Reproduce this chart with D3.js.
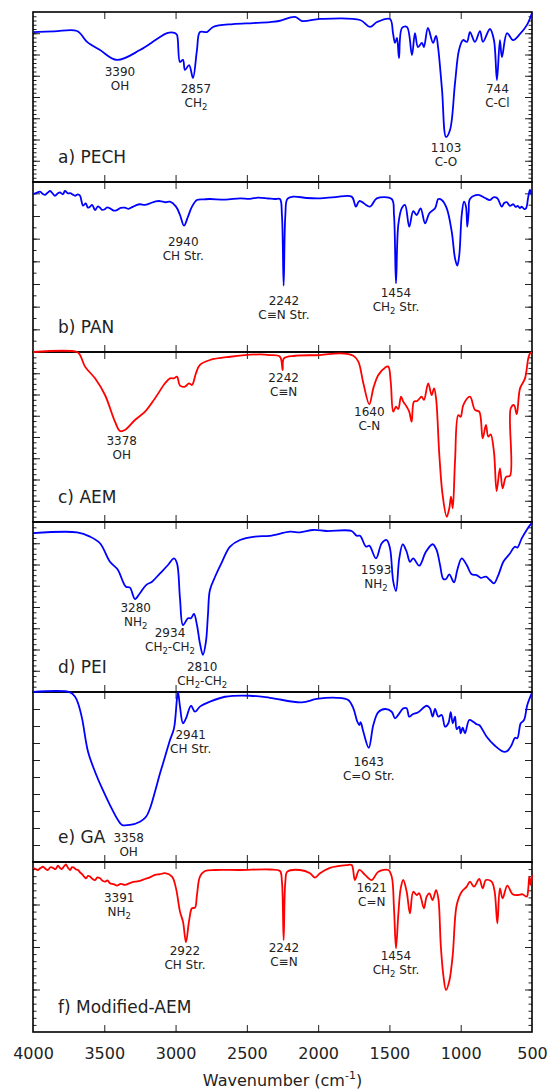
<!DOCTYPE html>
<html>
<head>
<meta charset="UTF-8">
<style>
  body { margin: 0; background: #fff; }
  svg text { font-family: "DejaVu Sans", sans-serif; fill: #222; }
  .spectrum { fill: none; stroke-width: 1.8px; stroke-linejoin: round; }
  .frame { fill: none; stroke: #000; stroke-width: 1.6px; }
  .tick line { stroke: #222; stroke-width: 1px; }
  .domain { display: none; }
</style>
</head>
<body>
<svg id="chart" width="549" height="1089"></svg>
<script src="https://d3js.org/d3.v7.min.js"></script>
<script>

// ---- spectra: [wavenumber, relative transmittance (%)] ----
let pechData = [
  [4000,88.2],[3850,88.6],[3691,88.8],[3621,82.4],[3530,77.6],[3411,71.8],[3250,77.6],[3130,84.1],
  [3060,87.6],[3004,87.6],[2990,86.5],[2969,70.6],[2948,71.8],[2934,65.9],[2905,68.8],[2878,61.2],
  [2850,77.6],[2829,88.2],[2780,88.2],[2737,91.2],[2597,92.9],[2457,93.5],[2338,94.1],[2275,94.7],
  [2162,97.1],[2113,94.7],[1987,95.9],[1706,95.3],[1636,91.2],[1587,94.1],[1496,95.9],[1475,87.6],
  [1461,81.8],[1447,84.7],[1433,72.9],[1412,90.6],[1377,91.2],[1342,74.7],[1321,87.6],[1300,79.4],
  [1272,81.8],[1258,79.4],[1230,90.6],[1194,81.8],[1173,85.9],[1159,79.4],[1131,54.1],[1103,26.5],
  [1075,30.6],[1040,58.2],[1012,77.6],[984,83.5],[956,82.4],[935,88.2],[900,82.4],[865,88.8],
  [844,82.4],[795,90.0],[767,83.5],[746,60.0],[725,83.5],[711,73.5],[675,87.6],[633,83.5],
  [584,87.1],[535,92.4],[500,99.4]
];
let panData = [
  [4000,92.8],[3975,93.6],[3951,94.3],[3930,92.9],[3916,92.4],[3900,93.5],[3881,94.7],[3860,93.0],
  [3846,91.9],[3825,93.4],[3811,93.9],[3790,92.8],[3776,94.7],[3755,93.3],[3740,93.4],[3720,92.6],
  [3705,91.9],[3685,92.7],[3670,91.9],[3649,86.1],[3630,87.4],[3615,84.9],[3600,85.5],[3585,86.6],
  [3565,83.5],[3545,85.6],[3530,84.9],[3515,83.6],[3500,83.8],[3480,85.1],[3460,84.5],[3435,83.2],
  [3411,83.5],[3385,84.8],[3355,84.9],[3330,84.2],[3300,85.4],[3275,86.4],[3250,86.9],[3215,86.6],
  [3180,87.4],[3140,88.6],[3109,88.8],[3070,88.1],[3039,88.4],[2997,85.5],[2969,80.6],[2941,74.3],
  [2913,79.6],[2885,85.5],[2850,89.4],[2800,89.8],[2759,90.0],[2650,89.6],[2548,90.4],[2480,90.1],
  [2422,90.8],[2350,90.3],[2303,90.0],[2268,90.0],[2254,80.6],[2242,39.0],[2230,80.6],[2216,90.0],
  [2174,91.4],[2080,90.6],[1987,90.4],[1880,91.1],[1765,91.4],[1735,85.5],[1711,88.8],[1636,85.5],
  [1589,90.4],[1484,90.0],[1468,80.6],[1454,40.4],[1438,74.7],[1414,84.5],[1391,86.5],[1361,73.7],
  [1333,82.9],[1309,80.6],[1281,84.5],[1250,75.7],[1220,81.6],[1180,84.5],[1157,90.0],[1133,89.4],
  [1098,84.5],[1063,70.8],[1040,55.1],[1024,50.8],[1010,57.1],[993,80.6],[977,88.4],[963,85.5],
  [954,73.7],[944,82.5],[935,90.0],[877,92.4],[830,90.6],[795,89.4],[770,91.0],[743,90.4],
  [712,85.5],[695,87.6],[677,88.1],[655,86.0],[631,86.9],[615,85.4],[600,85.9],[585,84.7],
  [572,85.5],[555,84.1],[542,84.5],[526,91.4],[514,95.3],[502,92.4]
];
let aemData = [
  [4000,100],[3691,100],[3670,98.2],[3635,91.4],[3565,84.5],[3495,74.7],[3425,59.0],[3390,53.5],
  [3355,54.1],[3285,60.0],[3214,64.9],[3144,72.8],[3074,81.6],[3039,84.5],[3011,84.5],[2990,85.5],
  [2969,80.2],[2934,79.6],[2906,81.6],[2885,80.6],[2857,87.5],[2829,92.4],[2759,95.3],[2618,97.2],
  [2408,98.6],[2338,98.2],[2268,97.2],[2249,89.4],[2240,96.3],[2162,97.8],[1987,98.2],[1847,99.2],
  [1753,97.8],[1718,94.3],[1683,81.6],[1641,69.2],[1613,78.6],[1578,86.5],[1531,90.8],[1508,91.4],
  [1491,82.5],[1473,64.9],[1454,67.8],[1438,66.5],[1419,73.7],[1403,70.8],[1379,67.8],[1361,64.9],
  [1344,59.0],[1328,70.8],[1305,71.2],[1274,73.7],[1258,71.8],[1228,81.6],[1204,74.7],[1187,78.6],
  [1173,72.8],[1150,39.4],[1127,15.9],[1098,3.1],[1080,8.1],[1068,14.9],[1056,8.1],[1040,35.5],
  [1017,62.9],[1000,61.9],[982,68.8],[935,73.7],[900,65.9],[870,64.9],[846,49.2],[823,57.1],
  [807,50.2],[790,51.6],[767,41.4],[748,18.2],[725,31.6],[706,19.8],[682,26.6],[654,27.2],
  [649,66.9],[626,68.8],[607,63.4],[584,78.6],[549,84.5],[526,96.3],[514,99.2],[500,100]
];
let peiData = [
  [4000,93.4],[3691,93.9],[3600,91.4],[3530,87.5],[3460,76.6],[3404,71.8],[3369,64.9],[3348,61.9],
  [3320,61.4],[3285,54.7],[3250,58.1],[3207,62.9],[3165,64.9],[3109,69.8],[3053,74.7],[3011,78.6],
  [2990,75.7],[2969,55.1],[2948,39.4],[2913,43.4],[2892,43.4],[2871,45.9],[2850,39.4],[2829,28.6],
  [2808,21.8],[2787,29.6],[2773,45.3],[2759,60.0],[2723,67.8],[2674,76.6],[2618,85.5],[2548,89.4],
  [2443,91.4],[2338,91.9],[2197,94.3],[2127,93.9],[2034,95.3],[1940,94.7],[1765,94.7],[1730,91.9],
  [1706,91.9],[1664,85.5],[1641,86.1],[1594,78.6],[1554,87.5],[1519,89.4],[1496,84.5],[1473,64.9],
  [1454,59.4],[1431,78.6],[1407,86.9],[1379,82.5],[1356,76.6],[1333,78.6],[1291,74.3],[1244,82.5],
  [1197,86.9],[1169,83.5],[1145,74.7],[1122,66.5],[1103,66.5],[1080,69.2],[1047,64.5],[1024,71.8],
  [993,78.6],[958,74.7],[923,69.2],[888,68.8],[860,67.2],[823,67.8],[795,65.9],[767,63.9],
  [736,68.8],[701,76.6],[659,81.0],[619,85.5],[603,84.9],[572,90.4],[537,95.3],[514,98.2],[500,99.4]
];
let gaData = [
  [4000,100],[3740,99.8],[3705,97.2],[3684,93.4],[3656,84.5],[3614,64.9],[3565,53.1],[3516,43.4],
  [3460,33.5],[3404,24.7],[3376,21.8],[3320,21.8],[3250,23.7],[3207,26.6],[3179,31.6],[3144,41.4],
  [3109,52.2],[3074,61.9],[3039,71.8],[3011,78.6],[2990,96.3],[2983,100],[2969,91.4],[2948,81.6],
  [2927,84.5],[2892,91.9],[2864,88.4],[2829,91.4],[2759,94.3],[2653,97.2],[2478,97.8],[2338,96.6],
  [2115,93.9],[2010,95.9],[1870,96.6],[1789,95.3],[1753,90.4],[1725,82.5],[1711,80.6],[1702,82.2],
  [1683,76.6],[1645,67.2],[1613,80.6],[1578,88.1],[1531,90.0],[1484,88.4],[1461,84.5],[1438,86.5],
  [1403,90.4],[1379,90.4],[1361,85.5],[1337,86.9],[1298,88.1],[1239,91.9],[1216,90.4],[1197,85.5],
  [1180,90.0],[1157,85.5],[1133,86.5],[1110,79.6],[1087,81.6],[1070,88.1],[1056,81.6],[1040,85.5],
  [1028,78.2],[1010,79.6],[1000,75.7],[986,79.0],[970,75.7],[940,83.5],[912,82.5],[888,81.0],
  [870,80.6],[818,73.7],[760,68.4],[701,64.9],[673,65.3],[643,68.8],[619,73.1],[603,72.8],
  [579,81.6],[556,83.5],[533,92.4],[502,99.2]
];
let modAemData = [
  [4000,96.6],[3982,95.9],[3965,95.3],[3948,96.4],[3930,97.2],[3912,96.0],[3895,95.3],[3878,96.9],
  [3860,96.6],[3842,95.8],[3825,97.8],[3810,96.5],[3797,95.9],[3783,97.4],[3769,98.6],[3755,96.6],
  [3740,95.3],[3726,97.0],[3712,96.6],[3698,95.6],[3684,95.3],[3670,93.9],[3656,92.8],[3640,91.2],
  [3628,90.4],[3614,91.8],[3600,91.4],[3582,90.0],[3565,89.4],[3548,90.9],[3530,90.4],[3512,89.0],
  [3495,88.4],[3478,89.2],[3460,87.5],[3435,87.0],[3411,86.1],[3385,87.1],[3355,86.5],[3320,87.6],
  [3285,88.4],[3250,88.9],[3214,90.0],[3180,91.0],[3144,92.4],[3110,92.8],[3074,93.4],[3025,91.4],
  [2997,84.5],[2969,70.8],[2948,64.9],[2927,52.8],[2906,64.9],[2885,72.8],[2864,73.1],[2850,80.6],
  [2829,91.4],[2794,94.7],[2723,95.3],[2548,95.3],[2338,95.6],[2268,94.7],[2254,88.4],[2242,54.1],
  [2230,88.4],[2216,94.3],[2127,95.3],[2057,93.4],[2022,90.8],[1987,93.4],[1917,96.6],[1800,98.2],
  [1765,98.2],[1742,89.4],[1711,95.3],[1671,92.4],[1624,89.4],[1578,94.3],[1508,95.3],[1484,91.4],
  [1468,72.8],[1454,49.2],[1438,68.8],[1421,84.5],[1403,89.4],[1379,82.5],[1356,69.8],[1333,82.5],
  [1309,80.6],[1291,81.6],[1258,72.8],[1239,79.6],[1220,81.6],[1197,77.6],[1173,83.5],[1157,78.6],
  [1140,51.2],[1122,33.5],[1103,24.7],[1080,30.0],[1056,45.3],[1028,74.7],[993,82.5],[958,85.5],
  [935,88.4],[907,85.5],[870,90.0],[846,84.5],[823,89.4],[783,88.4],[762,82.5],[743,63.9],
  [725,84.5],[706,78.6],[673,86.1],[636,81.0],[598,80.6],[566,81.0],[537,79.6],[526,84.5],
  [519,91.4],[509,86.5],[500,92.4]
];

// ---- peak labels: [label wavenumber, label level (%), number, group] ----
let pechPeaks = [[3390,62.4,"3390","OH"],[2857,52.2,"2857","CH_2"],[1103,17.8,"1103","C-O"],[743,52.2,"744","C-Cl"]];
let panPeaks = [[2946,62.4,"2940","CH Str."],[2240,27.6,"2242","C\u2261N Str."],[1454,32.5,"1454","CH_2 Str."]];
let aemPeaks = [[3378,45.3,"3378","OH"],[2242,82.5,"2242","C\u2261N"],[1641,62.4,"1640","C-N"]];
let peiPeaks = [[3280,47.2,"3280","NH_2"],[3039,32.5,"2934","CH_2-CH_2"],[2813,12.5,"2810","CH_2-CH_2"],[1594,69.2,"1593","NH_2"]];
let gaPeaks = [[3329,11.9,"3358","OH"],[2894,72.2,"2941","CH Str."],[1645,56.6,"1643","C=O Str."]];
let modAemPeaks = [[3395,76.6,"3391","NH_2"],[2934,45.3,"2922","CH Str."],[2240,47.2,"2242","C\u2261N"],[1624,82.5,"1621","C=N"],[1454,42.4,"1454","CH_2 Str."]];

let panelNames = ["a) PECH","b) PAN","c) AEM","d) PEI","e) GA","f) Modified-AEM"];
let xTicks = [4000,3500,3000,2500,2000,1500,1000,500];

// ---- layout ----
let width = 549, height = 1089;
let left = 33, right = 532, top0 = 12, panelH = 170;

let panels = [
  {name: panelNames[0], data: pechData,   peaks: pechPeaks,   color: "#0000ff", major: 12.5,  minor: 2.5},
  {name: panelNames[1], data: panData,    peaks: panPeaks,    color: "#0000ff", major: 13.333, minor: 6.667},
  {name: panelNames[2], data: aemData,    peaks: aemPeaks,    color: "#ff0000", major: 12.5,  minor: 3.125},
  {name: panelNames[3], data: peiData,    peaks: peiPeaks,    color: "#0000ff", major: 12.5,  minor: 3.125},
  {name: panelNames[4], data: gaData,     peaks: gaPeaks,     color: "#0000ff", major: 10,    minor: 10},
  {name: panelNames[5], data: modAemData, peaks: modAemPeaks, color: "#ff0000", major: 25,    minor: 4.1667}
];

let svg = d3.select("#chart")
    .attr("viewBox", "0 0 " + width + " " + height);

let x = d3.scaleLinear().domain([4000, 500]).range([left, right]);

// text with "_2" style subscripts
function richText(sel, str) {
  let parts = str.split(/_(\d)/);
  let shifted = false;
  parts.forEach((p, i) => {
    if (p === "") return;
    let t = sel.append("tspan").text(p);
    if (i % 2 === 1) {
      t.attr("font-size", "8.5px").attr("dy", 3);
      shifted = true;
    } else if (shifted) {
      t.attr("dy", -3);
      shifted = false;
    }
  });
}

function ticksFor(step) {
  let vals = [];
  for (let k = 1; k * step < 99.9; k++) vals.push(k * step);
  return vals;
}

panels.forEach((p, i) => {
  let y0 = top0 + i * panelH;
  let y = d3.scaleLinear().domain([0, 100]).range([y0 + panelH, y0]);
  let g = svg.append("g").attr("class", "panel");

  // y ticks (inward, both sides) - minor then major
  g.append("g").attr("transform", `translate(${left},0)`)
    .call(d3.axisLeft(y).tickValues(ticksFor(p.minor)).tickSize(-3.5).tickFormat(""));
  g.append("g").attr("transform", `translate(${left},0)`)
    .call(d3.axisLeft(y).tickValues(ticksFor(p.major)).tickSize(-7).tickFormat(""));
  g.append("g").attr("transform", `translate(${right},0)`)
    .call(d3.axisRight(y).tickValues(ticksFor(p.minor)).tickSize(-3.5).tickFormat(""));
  g.append("g").attr("transform", `translate(${right},0)`)
    .call(d3.axisRight(y).tickValues(ticksFor(p.major)).tickSize(-7).tickFormat(""));

  // x ticks top and bottom
  let inner = xTicks.filter(v => v < 4000 && v > 500);
  g.append("g").attr("transform", `translate(0,${y0})`)
    .call(d3.axisTop(x).tickValues(inner).tickSize(-7).tickFormat(""));
  let bottomAxis = g.append("g").attr("transform", `translate(0,${y0 + panelH})`);
  if (i === panels.length - 1) {
    bottomAxis.call(d3.axisBottom(x).tickValues(xTicks).tickSize(-7).tickPadding(15.5).tickFormat(d3.format("d")))
      .selectAll("text").attr("font-size", "16px").attr("fill", "#222")
      .attr("font-family", "DejaVu Sans, sans-serif");
    bottomAxis.selectAll(".tick").filter(d => d === 4000 || d === 500).select("line").remove();
  } else {
    bottomAxis.call(d3.axisBottom(x).tickValues(inner).tickSize(-7).tickFormat(""));
  }

  // frame
  g.append("rect").attr("class", "frame")
    .attr("x", left).attr("y", y0)
    .attr("width", right - left).attr("height", panelH);

  // spectrum
  let line = d3.line().curve(d3.curveCatmullRom.alpha(0.5))
    .x(d => x(d[0])).y(d => y(d[1]));
  g.append("path").datum(p.data)
    .attr("class", "spectrum")
    .attr("stroke", p.color)
    .attr("d", line);

  // peak annotations
  p.peaks.forEach(pk => {
    g.append("text")
      .attr("x", x(pk[0])).attr("y", y(pk[1]))
      .attr("text-anchor", "middle").attr("font-size", "12px")
      .text(pk[2]);
    richText(g.append("text")
      .attr("x", x(pk[0])).attr("y", y(pk[1]) + 13.8)
      .attr("text-anchor", "middle").attr("font-size", "12px"), pk[3]);
  });

  // panel name
  g.append("text")
    .attr("x", left + 25).attr("y", y0 + panelH - 19)
    .attr("font-size", "17px")
    .text(p.name);
});

// x axis title
let xt = svg.append("text")
    .attr("x", (left + right) / 2).attr("y", 1086)
    .attr("text-anchor", "middle").attr("font-size", "16px");
xt.append("tspan").text("Wavenumber (cm");
xt.append("tspan").attr("font-size", "11px").attr("dy", -7).text("-1");
xt.append("tspan").attr("dy", 7).text(")");

</script>
</body>
</html>
